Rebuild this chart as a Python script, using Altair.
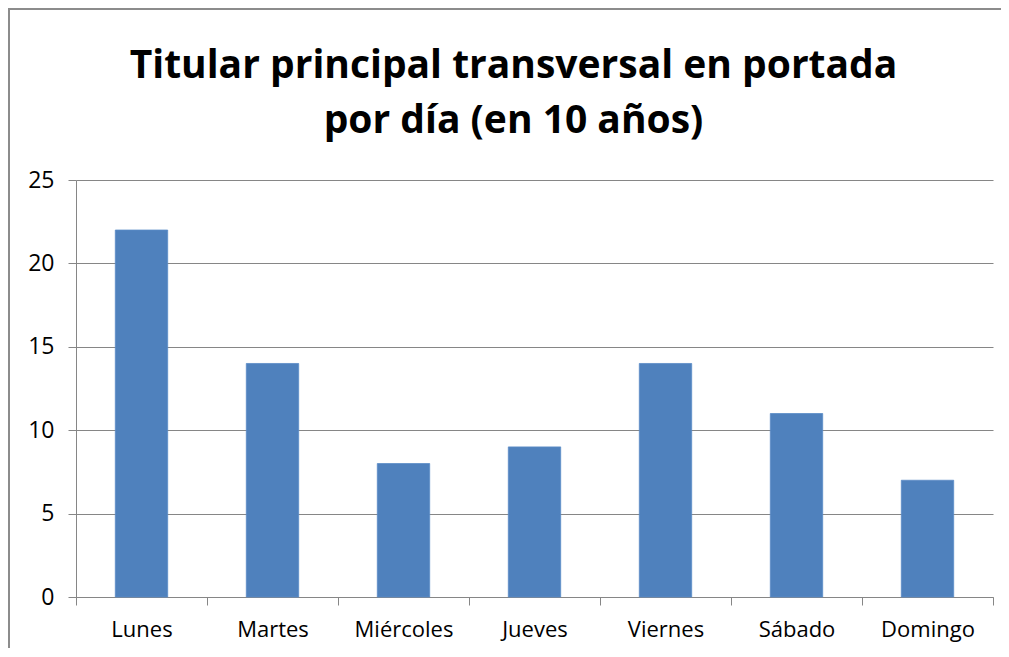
import altair as alt
import pandas as pd

dias = ["Lunes", "Martes", "Miércoles", "Jueves", "Viernes", "Sábado", "Domingo"]
valores = [22, 14, 8, 9, 14, 11, 7]

df = pd.DataFrame({"dia": dias, "valor": valores})

FONT = "Open Sans"

bars = alt.Chart(df).mark_bar(color="#4F81BD", stroke="#5b8cc6", strokeWidth=0.8,
                              width=alt.RelativeBandSize(0.4)).encode(
    x=alt.X("dia:N", sort=dias, title=None,
            scale=alt.Scale(paddingInner=0, paddingOuter=0),
            axis=alt.Axis(labelAngle=0, labelFont=FONT, labelFontSize=22, labelColor="#000000",
                          labelPadding=14, tickBand="extent", tickSize=8, tickColor="#868686",
                          domainColor="#868686", ticks=True, grid=False)),
    y=alt.Y("valor:Q", title=None,
            scale=alt.Scale(domain=[0, 25], nice=False),
            axis=alt.Axis(values=[0, 5, 10, 15, 20, 25], labelFont=FONT, labelFontSize=23,
                          labelColor="#000000", labelPadding=14, tickSize=8, tickColor="#868686",
                          domainColor="#868686", gridColor="#868686", grid=True)),
)

border_left = alt.Chart(df).mark_rule(color="#8c8c8c", strokeWidth=2, clip=False).encode(
    x=alt.value(-67), y=alt.value(-171), y2=alt.value(468)
)
border_top = alt.Chart(df).mark_rule(color="#8c8c8c", strokeWidth=2, clip=False).encode(
    x=alt.value(-68), x2=alt.value(925), y=alt.value(-171)
)

chart = alt.layer(border_left, border_top, bars).properties(
    width=917,
    height=417,
    autosize=alt.AutoSizeParams(type="none"),
    padding={"left": 68, "top": 172, "right": 8, "bottom": 52},
    title=alt.TitleParams(
        text=["Titular principal transversal en portada", "por día (en 10 años)"],
        font=FONT, fontSize=39, fontWeight="bold", color="#000000",
        anchor="middle", frame="group", lineHeight=55, offset=-133, dx=-21,
    ),
).configure_view(stroke=None)

chart.save("out.html", embed_options={"renderer": "svg", "actions": False})
